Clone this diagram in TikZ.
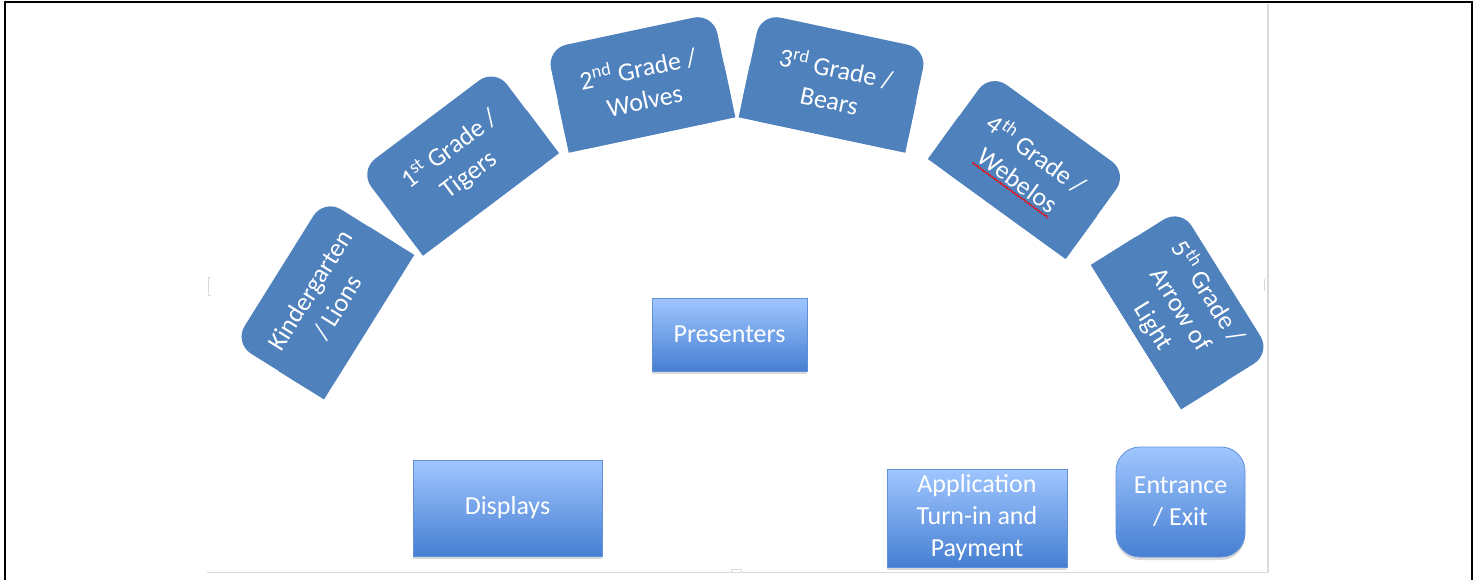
\documentclass[tikz,border=0pt]{standalone}
\usepackage{fontspec}
\setmainfont{Carlito}
\usetikzlibrary{shadows,backgrounds,decorations.pathmorphing}
\definecolor{tabblue}{RGB}{79,129,189}
\definecolor{boxtop}{RGB}{160,198,255}
\definecolor{boxbot}{RGB}{70,127,210}
\definecolor{boxline}{RGB}{98,144,216}
\definecolor{canvasgray}{RGB}{218,218,218}

\begin{document}
\begin{tikzpicture}[%
    x=1pt, y=-1pt,              % reference pixels, y going down
    every node/.style={font=\fontsize{26}{32}\selectfont, text=white, align=center}]
\useasboundingbox (0,0) rectangle (1478,580);
% -------------------------------------------------
% A few box styles
\tikzset{
  % tabs round the arc: rounded on top, square at the bottom
  tab/.style={fill=tabblue, rounded corners=20pt, minimum width=170pt,
    minimum height=106pt, inner sep=2pt},
  % gradient boxes inside the arc
  area/.style={draw=boxline, line width=0.8pt, top color=boxtop,
    bottom color=boxbot, inner sep=2pt,
    drop shadow={shadow xshift=0pt, shadow yshift=-3pt, opacity=.3}},
  canvas/.style={draw=canvasgray, line width=1.5pt},
  spell/.style={draw=red, line width=0.8pt, decorate,
    decoration={snake, amplitude=0.8pt, segment length=3pt}}
}
% -------------------------------------------------
% Page frame and the drawing canvas edges
\draw[line width=2.6pt] (5,582) -- (5,2) -- (1472,2) -- (1472,582);
\draw[canvas] (1268,4) -- (1268,572.5) -- (207,572.5);
\draw[canvas, line width=1pt] (211,277) -- (208,277) -- (208,295) -- (211,295);
\draw[canvas, line width=1pt] (1264,279) -- (1264,291);
\draw[canvas, line width=1pt] (731,572.5) -- (731,569) -- (741,569) -- (741,572.5);

% -------------------------------------------------
% The rank tabs, left to right
\node[tab, rotate=58]  (kg) at (324,299)  {Kindergarten\\/ Lions};
\node[tab, rotate=37]  (g1) at (459,162)  {1\textsuperscript{st} Grade /\\Tigers};
\node[tab, rotate=12]  (g2) at (641,83)   {2\textsuperscript{nd} Grade /\\Wolves};
\node[tab, rotate=-12] (g3) at (833,83)   {3\textsuperscript{rd} Grade /\\Bears};
\node[tab, rotate=-36] (g4) at (1028,166) {4\textsuperscript{th} Grade /\\Webelos};
\node[tab, rotate=-58] (g5) at (1181,309) {5\textsuperscript{th} Grade /\\Arrow of\\Light};

% square off the lower corners of each tab
\begin{scope}[on background layer]
\fill[tabblue] (kg.west) -- (kg.east) -- (kg.south east) -- (kg.south west) -- cycle;
\fill[tabblue] (g1.west) -- (g1.east) -- (g1.south east) -- (g1.south west) -- cycle;
\fill[tabblue] (g2.west) -- (g2.east) -- (g2.south east) -- (g2.south west) -- cycle;
\fill[tabblue] (g3.west) -- (g3.east) -- (g3.south east) -- (g3.south west) -- cycle;
\fill[tabblue] (g4.west) -- (g4.east) -- (g4.south east) -- (g4.south west) -- cycle;
\fill[tabblue] (g5.west) -- (g5.east) -- (g5.south east) -- (g5.south west) -- cycle;
\end{scope}

% spell-check wave under Webelos
\begin{scope}[shift={(g4.center)}, rotate=-36]
  \draw[spell] (-47,30) -- (47,30);
\end{scope}

% -------------------------------------------------
% Boxes inside the arc
\node[area, minimum width=155pt, minimum height=73pt] (pres) at (729.5,334.5) {Presenters};
\node[area, minimum width=189pt, minimum height=96pt] (disp) at (507.5,508) {Displays};
\node[area, minimum width=180pt, minimum height=98pt] (appl) at (977,518)
  {Application\\Turn-in and\\Payment};
\node[area, rounded corners=24pt, minimum width=129pt, minimum height=110pt]
  (entr) at (1180.5,502) {Entrance\\/ Exit};
\end{tikzpicture}
\end{document}
